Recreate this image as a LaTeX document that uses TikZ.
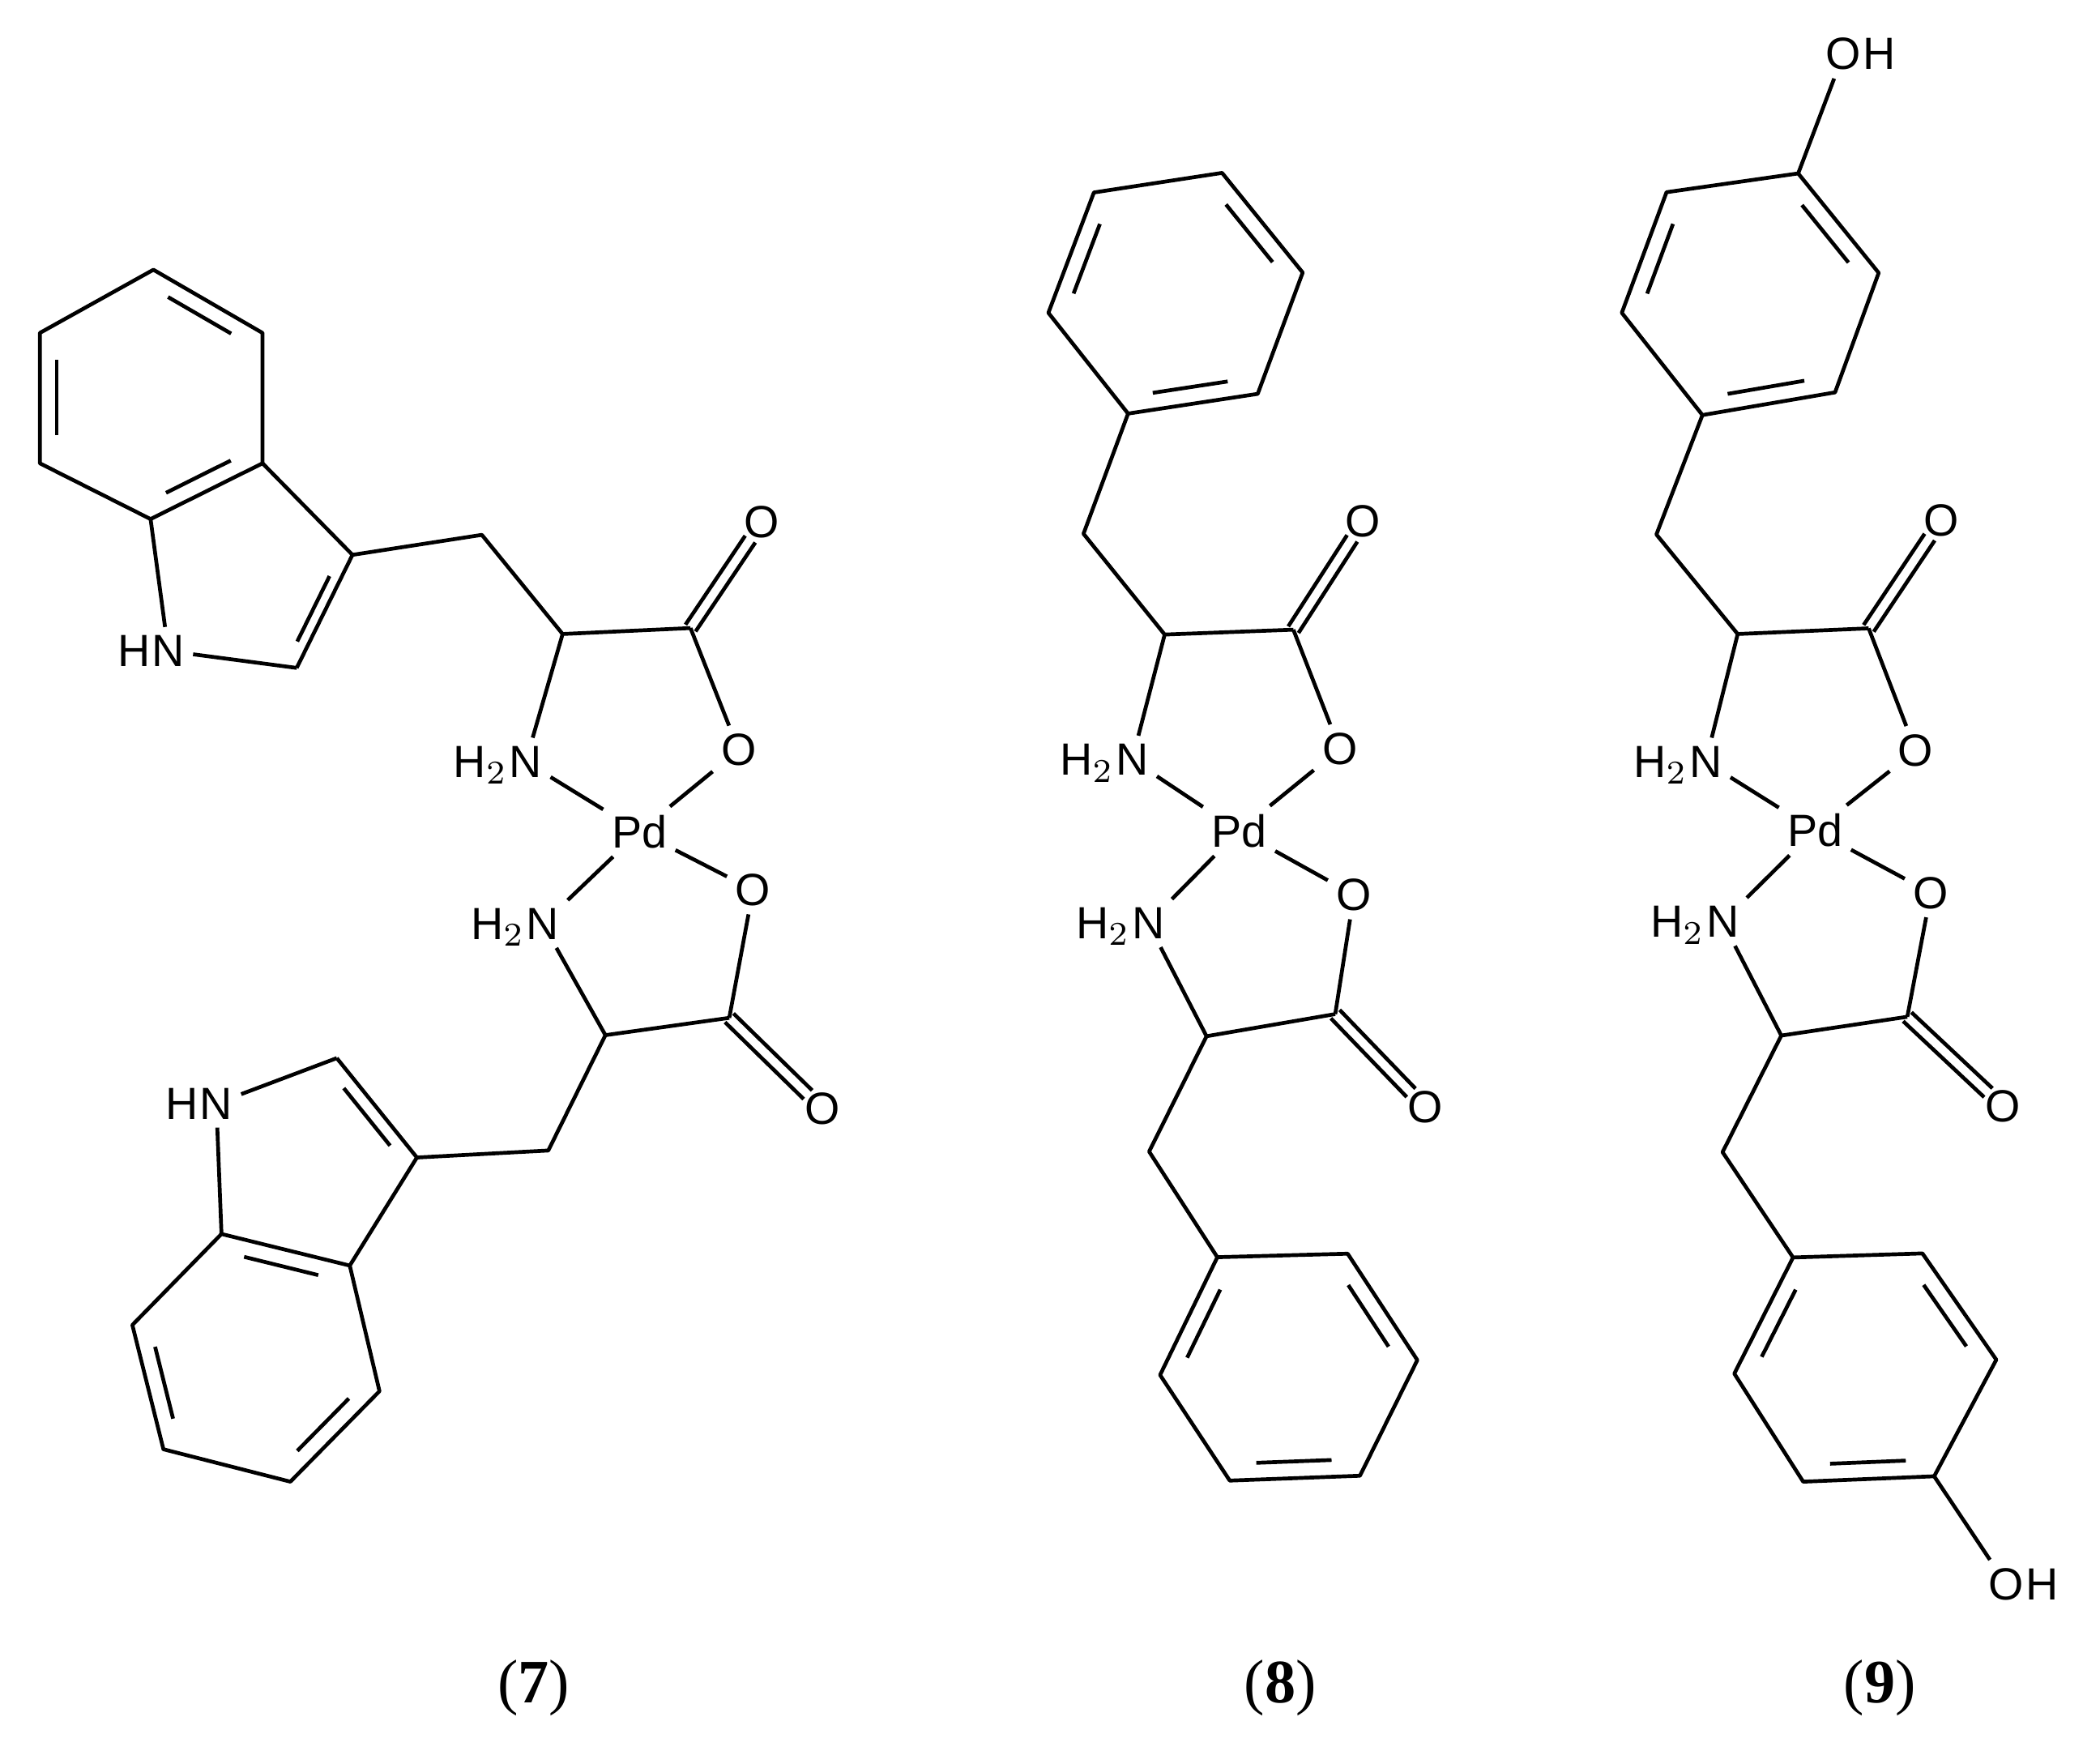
\documentclass[tikz,border=0pt]{standalone}
\usepackage{fontspec}
\setmainfont{Liberation Sans}
\newfontfamily\capfont{Liberation Serif}
\usetikzlibrary{calc}
\tikzset{
  atom/.style={font=\fontsize{9.5}{10}\selectfont, inner sep=1.6pt},
  hleft/.style={atom, inner sep=0pt, anchor=base east, xshift=1.6pt},
  hright/.style={atom, inner sep=0pt, anchor=base west, xshift=-1.6pt},
  bond/.style={line width=0.8pt},
  molcaption/.style={font=\capfont\fontsize{13}{14}\selectfont}
}
\newcommand\rdbl[3]{\draw[bond] ($(#1)!.16!(#2)!.15!(#3)$) -- ($(#2)!.16!(#1)!.15!(#3)$);}
\newcommand\cdbl[2]{%
  \draw[bond,shorten >=0.15cm] ($(#1)!0.045cm!90:(#2)$) -- ($(#2)!0.045cm!-90:(#1)$);
  \draw[bond,shorten >=0.15cm] ($(#1)!0.045cm!-90:(#2)$) -- ($(#2)!0.045cm!90:(#1)$);}
\begin{document}
\begin{tikzpicture}[x=0.01cm,y=-0.01cm]
\useasboundingbox (0,0) rectangle (1555,1296);
% ---------------- molecule 7 ----------------
\coordinate (aB1) at (113.6,199.7);
\coordinate (aB2) at (194.4,246.5);
\coordinate (aB3) at (194.4,343);
\coordinate (aB4) at (111.5,384.3);
\coordinate (aB5) at (29.5,343);
\coordinate (aB6) at (29.5,246.5);
\coordinate (aBc) at ($(aB1)!.5!(aB4)$);
\coordinate (aC3) at (261,410.8);
\coordinate (aC2) at (219.7,494.5);
\coordinate (aPc) at (185,440);
\node[atom] (aN) at (124.6,482) {N};
\node[hleft] at (aN.base west) {H};
\coordinate (aCH) at (356.8,396);
\coordinate (aCa) at (416.6,469.4);
\coordinate (aCc) at (511.3,465);
\node[atom] (aOd) at (563.9,386.7) {O};
\node[atom] (aO1) at (547,555.4) {O};
\node[atom] (aN1) at (389.3,564) {N};
\node[hleft] at (aN1.base west) {H$_2$};
\node[atom] (aPd) at (473.4,615.7) {Pd};
\node[atom] (aO2) at (557.6,658.8) {O};
\node[atom] (aN2) at (402,684) {N};
\node[hleft] at (aN2.base west) {H$_2$};
\coordinate (aCa2) at (448.3,766.4);
\coordinate (aCc2) at (540,753.6);
\node[atom] (aOd2) at (609,821) {O};
\coordinate (aCH2) at (406,851.8);
\coordinate (bC3) at (308.7,857);
\coordinate (bC2) at (249.4,783.4);
\node[atom] (bN) at (160.2,817) {N};
\node[hleft] at (bN.base west) {H};
\coordinate (bC7a) at (164,913.6);
\coordinate (bC3a) at (259,937);
\coordinate (bC4) at (281,1030);
\coordinate (bC5) at (215,1097);
\coordinate (bC6) at (121,1073);
\coordinate (bC7) at (98,981);
\coordinate (bBc) at ($(bC7a)!.5!(bC5)$);
\coordinate (bPc) at (230,865);
\draw[bond,line join=round] (aB1) -- (aB2) -- (aB3) -- (aB4) -- (aB5) -- (aB6) -- cycle;
\rdbl{aB1}{aB2}{aBc} \rdbl{aB6}{aB5}{aBc} \rdbl{aB3}{aB4}{aBc}
\draw[bond,line join=round] (aB3) -- (aC3) -- (aC2);
\rdbl{aC3}{aC2}{aPc}
\draw[bond] (aC2) -- (aN); \draw[bond] (aN) -- (aB4);
\draw[bond,line join=round] (aC3) -- (aCH) -- (aCa) -- (aCc);
\cdbl{aCc}{aOd}
\draw[bond] (aCc) -- (aO1); \draw[bond] (aCa) -- (aN1);
\draw[bond] (aN1) -- (aPd); \draw[bond] (aO1) -- (aPd);
\draw[bond] (aN2) -- (aPd); \draw[bond] (aO2) -- (aPd);
\draw[bond] (aN2) -- (aCa2); \draw[bond] (aO2) -- (aCc2);
\draw[bond] (aCa2) -- (aCc2);
\cdbl{aCc2}{aOd2}
\draw[bond,line join=round] (aCa2) -- (aCH2) -- (bC3) -- (bC2);
\rdbl{bC3}{bC2}{bPc}
\draw[bond] (bC2) -- (bN); \draw[bond] (bN) -- (bC7a);
\draw[bond,line join=round] (bC7a) -- (bC3a) -- (bC4) -- (bC5) -- (bC6) -- (bC7) -- cycle;
\draw[bond] (bC3a) -- (bC3);
\rdbl{bC7a}{bC3a}{bBc} \rdbl{bC4}{bC5}{bBc} \rdbl{bC6}{bC7}{bBc}
\node[molcaption] at (395,1250) {(\textbf{7})};
% ---------------- molecule 8 ----------------
\coordinate (cR1) at (904.9,128);
\coordinate (cR2) at (964.6,201.8);
\coordinate (cR3) at (931.3,291.6);
\coordinate (cR4) at (835.3,306.2);
\coordinate (cR5) at (776.3,231.6);
\coordinate (cR6) at (810,142.5);
\coordinate (cRc) at ($(cR1)!.5!(cR4)$);
\coordinate (cCH) at (802.3,395.2);
\coordinate (cCa) at (862.4,469.8);
\coordinate (cCc) at (957.7,466.2);
\node[atom] (cOd) at (1009.4,386) {O};
\node[atom] (cO1) at (992.1,554.5) {O};
\node[atom] (cN1) at (838.3,562.5) {N};
\node[hleft] at (cN1.base west) {H$_2$};
\node[atom] (cPd) at (917.5,615.2) {Pd};
\node[atom] (cO2) at (1002.5,662.5) {O};
\node[atom] (cN2) at (850.2,683.5) {N};
\node[hleft] at (cN2.base west) {H$_2$};
\coordinate (cCa2) at (893.4,767.2);
\coordinate (cCc2) at (988.7,750.8);
\node[atom] (cOd2) at (1055.3,819.9) {O};
\coordinate (cCH2) at (850.9,852.6);
\coordinate (cS1) at (901.4,930.8);
\coordinate (cS2) at (997.9,928.2);
\coordinate (cS3) at (1049.5,1007);
\coordinate (cS4) at (1007,1092.6);
\coordinate (cS5) at (910.6,1096.2);
\coordinate (cS6) at (859,1018);
\coordinate (cSc) at ($(cS1)!.5!(cS4)$);
\draw[bond,line join=round] (cR1) -- (cR2) -- (cR3) -- (cR4) -- (cR5) -- (cR6) -- cycle;
\rdbl{cR6}{cR5}{cRc} \rdbl{cR1}{cR2}{cRc} \rdbl{cR3}{cR4}{cRc}
\draw[bond,line join=round] (cR4) -- (cCH) -- (cCa) -- (cCc);
\cdbl{cCc}{cOd}
\draw[bond] (cCc) -- (cO1); \draw[bond] (cCa) -- (cN1);
\draw[bond] (cN1) -- (cPd); \draw[bond] (cO1) -- (cPd);
\draw[bond] (cN2) -- (cPd); \draw[bond] (cO2) -- (cPd);
\draw[bond] (cN2) -- (cCa2); \draw[bond] (cO2) -- (cCc2);
\draw[bond] (cCa2) -- (cCc2);
\cdbl{cCc2}{cOd2}
\draw[bond,line join=round] (cCa2) -- (cCH2) -- (cS1);
\draw[bond,line join=round] (cS1) -- (cS2) -- (cS3) -- (cS4) -- (cS5) -- (cS6) -- cycle;
\rdbl{cS1}{cS6}{cSc} \rdbl{cS2}{cS3}{cSc} \rdbl{cS4}{cS5}{cSc}
\node[molcaption] at (948,1250) {(\textbf{8})};
% ---------------- molecule 9 ----------------
\node[atom] (eOH) at (1365,40) {O};
\node[hright] at (eOH.base east) {H};
\coordinate (eT4) at (1331.5,128.4);
\coordinate (eT5) at (1391.1,202);
\coordinate (eT6) at (1358.8,290.5);
\coordinate (eT1) at (1260.6,307.3);
\coordinate (eT2) at (1200.9,231.6);
\coordinate (eT3) at (1234,142.3);
\coordinate (eTc) at ($(eT1)!.5!(eT4)$);
\coordinate (eCH) at (1226.5,395.7);
\coordinate (eCa) at (1286.7,469.4);
\coordinate (eCc) at (1383.7,465.2);
\node[atom] (eOd) at (1437.2,385.2) {O};
\node[atom] (eO1) at (1418.5,555.7) {O};
\node[atom] (eN1) at (1263,564) {N};
\node[hleft] at (eN1.base west) {H$_2$};
\node[atom] (ePd) at (1343.9,614.7) {Pd};
\node[atom] (eO2) at (1429.7,661) {O};
\node[atom] (eN2) at (1275.5,682.5) {N};
\node[hleft] at (eN2.base west) {H$_2$};
\coordinate (eCa2) at (1319,766.7);
\coordinate (eCc2) at (1412.3,752.8);
\node[atom] (eOd2) at (1483.2,819.3) {O};
\coordinate (eCH2) at (1275.5,853);
\coordinate (eU1) at (1327.7,931);
\coordinate (eU2) at (1423.5,928);
\coordinate (eU3) at (1478.2,1006.7);
\coordinate (eU4) at (1432.2,1093);
\coordinate (eU5) at (1335.2,1097);
\coordinate (eU6) at (1284.2,1017);
\coordinate (eUc) at ($(eU1)!.5!(eU4)$);
\node[atom] (eOH2) at (1485.6,1173) {O};
\node[hright] at (eOH2.base east) {H};
\draw[bond] (eOH) -- (eT4);
\draw[bond,line join=round] (eT4) -- (eT5) -- (eT6) -- (eT1) -- (eT2) -- (eT3) -- cycle;
\rdbl{eT3}{eT2}{eTc} \rdbl{eT4}{eT5}{eTc} \rdbl{eT6}{eT1}{eTc}
\draw[bond,line join=round] (eT1) -- (eCH) -- (eCa) -- (eCc);
\cdbl{eCc}{eOd}
\draw[bond] (eCc) -- (eO1); \draw[bond] (eCa) -- (eN1);
\draw[bond] (eN1) -- (ePd); \draw[bond] (eO1) -- (ePd);
\draw[bond] (eN2) -- (ePd); \draw[bond] (eO2) -- (ePd);
\draw[bond] (eN2) -- (eCa2); \draw[bond] (eO2) -- (eCc2);
\draw[bond] (eCa2) -- (eCc2);
\cdbl{eCc2}{eOd2}
\draw[bond,line join=round] (eCa2) -- (eCH2) -- (eU1);
\draw[bond,line join=round] (eU1) -- (eU2) -- (eU3) -- (eU4) -- (eU5) -- (eU6) -- cycle;
\rdbl{eU1}{eU6}{eUc} \rdbl{eU2}{eU3}{eUc} \rdbl{eU4}{eU5}{eUc}
\draw[bond] (eU4) -- (eOH2);
\node[molcaption] at (1392,1250) {(\textbf{9})};
\end{tikzpicture}
\end{document}
